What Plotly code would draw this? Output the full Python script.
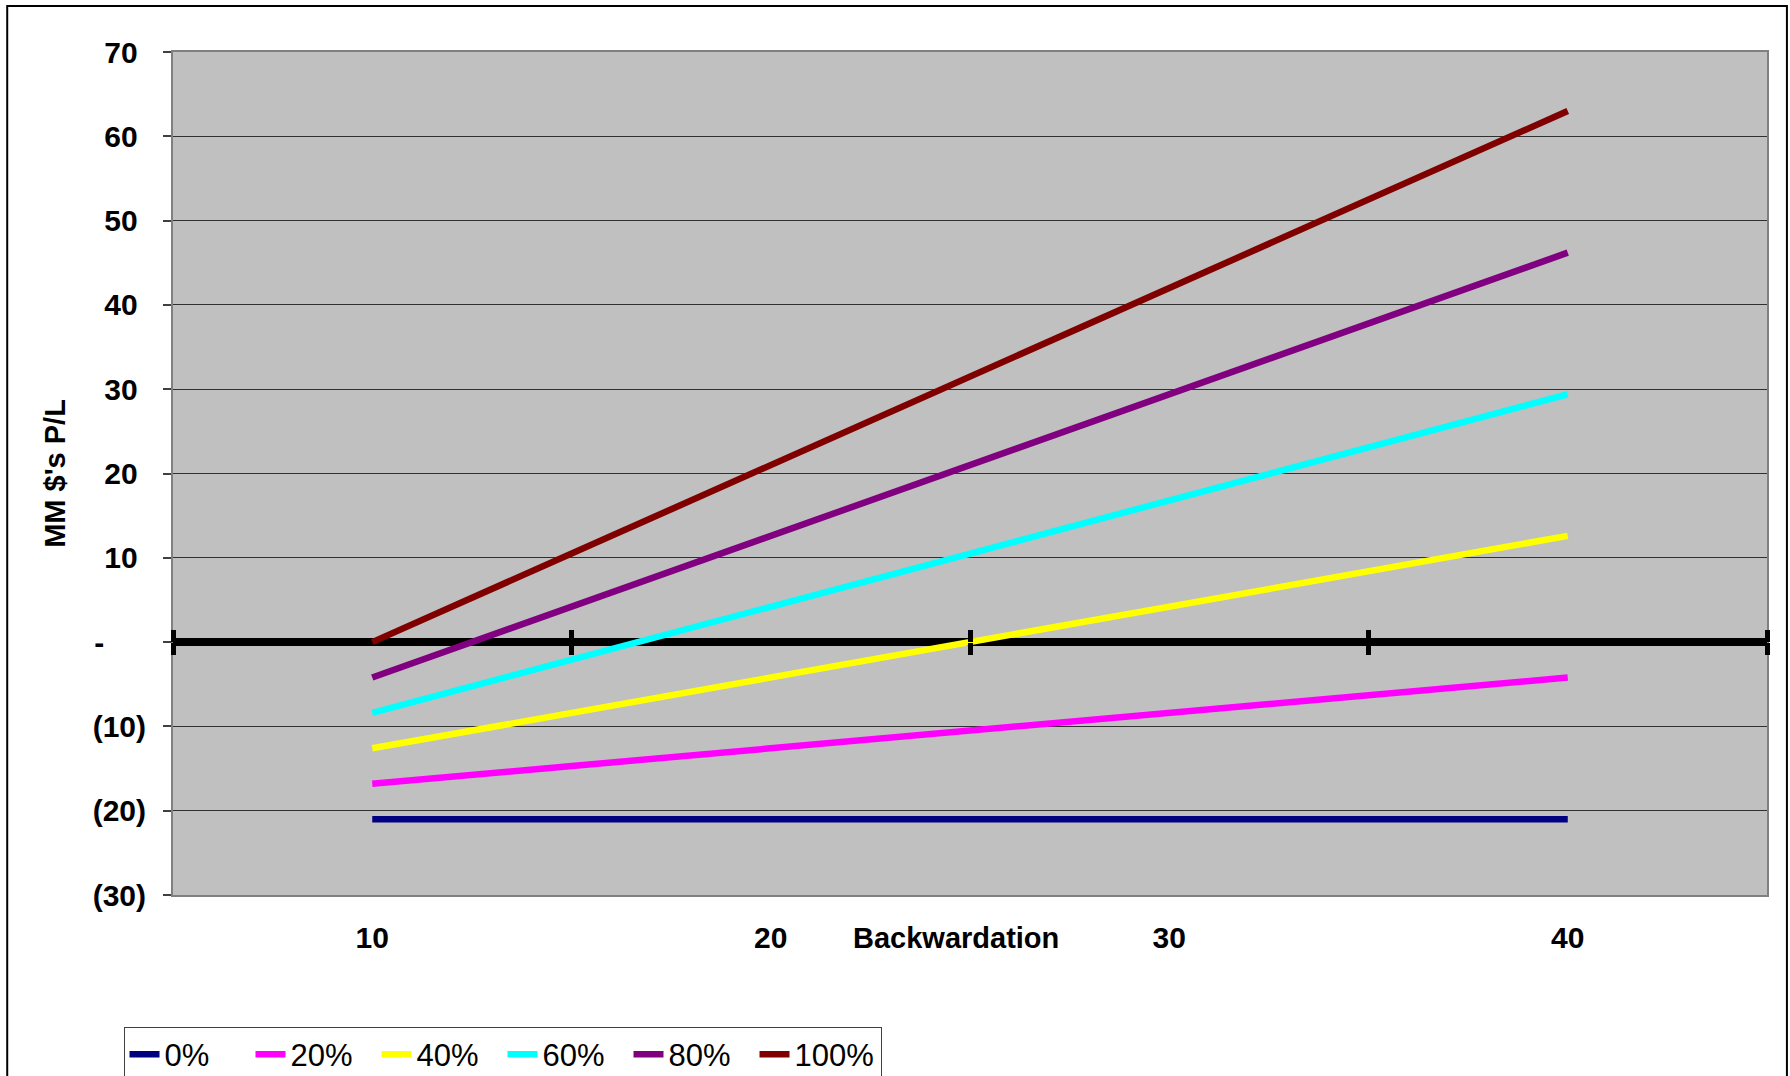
import plotly.graph_objects as go

# ---- data ----
categories = ["10", "20", "30", "40"]
series_names = ["0%", "20%", "40%", "60%", "80%", "100%"]
pl_0 = [-21.0, -21.0, -21.0, -21.0]
pl_20 = [-16.8, -12.6, -8.4, -4.2]
pl_40 = [-12.6, -4.2, 4.2, 12.6]
pl_60 = [-8.4, 4.2, 16.8, 29.4]
pl_80 = [-4.2, 12.6, 29.4, 46.2]
pl_100 = [0.0, 21.0, 42.0, 63.0]
series_values = [pl_0, pl_20, pl_40, pl_60, pl_80, pl_100]
series_colors = ["#000080", "#FF00FF", "#FFFF00", "#00FFFF", "#800080", "#800000"]

y_tick_vals = [-30, -20, -10, 0, 10, 20, 30, 40, 50, 60, 70]
y_tick_text = ["(30)", "(20)", "(10)", "-\u00a0\u00a0\u00a0\u00a0\u00a0",
               "10\u00a0", "20\u00a0", "30\u00a0", "40\u00a0", "50\u00a0", "60\u00a0", "70\u00a0"]
y_range = [-30, 70]

FONT = "Liberation Sans, Arial, sans-serif"

fig = go.Figure()
for name, vals, col in zip(series_names, series_values, series_colors):
    fig.add_trace(go.Scatter(x=categories, y=vals, name=name, mode="lines",
                             line=dict(color=col, width=6.5)))

# invisible helper traces for the crossing axis tick marks at y=0
for ax in ["x2", "x3"]:
    fig.add_trace(go.Scatter(x=categories, y=[None] * len(categories), xaxis=ax,
                             showlegend=False, hoverinfo="skip", mode="lines"))

zero_pos = (0 - y_range[0]) / (y_range[1] - y_range[0])

fig.update_layout(
    width=1790, height=1076,
    margin=dict(l=173, r=23, t=52, b=181, autoexpand=False),
    paper_bgcolor="white",
    plot_bgcolor="#C0C0C0",
    font=dict(family=FONT, color="black"),
    showlegend=True,
    legend=dict(orientation="h", xref="container", yref="container",
                x=0.069, y=0.046, xanchor="left", yanchor="top",
                bgcolor="white", bordercolor="#404040", borderwidth=1,
                font=dict(family=FONT, size=31),
                entrywidth=81, entrywidthmode="pixels",
                tracegroupgap=0),
    xaxis=dict(type="category", categoryarray=categories, range=[-0.5, 3.5],
               automargin=False,
               showgrid=False, zeroline=False, ticks="",
               showline=True, linecolor="#808080", linewidth=2, mirror=True,
               tickfont=dict(family=FONT, size=30, color="black", weight="bold"),
               ticklabelstandoff=15),
    xaxis2=dict(type="category", categoryarray=categories, range=[-0.5, 3.5],
                overlaying="x", anchor="free", position=zero_pos, side="bottom",
                showgrid=False, zeroline=False, showline=False, showticklabels=False,
                ticks="outside", tickson="boundaries", ticklen=12, tickwidth=5, tickcolor="black"),
    xaxis3=dict(type="category", categoryarray=categories, range=[-0.5, 3.5],
                overlaying="x", anchor="free", position=zero_pos, side="top",
                showgrid=False, zeroline=False, showline=False, showticklabels=False,
                ticks="outside", tickson="boundaries", ticklen=12, tickwidth=5, tickcolor="black"),
    yaxis=dict(range=y_range, tickvals=y_tick_vals, ticktext=y_tick_text,
               automargin=False,
               showgrid=True, gridcolor="#303030", gridwidth=1,
               zeroline=True, zerolinecolor="black", zerolinewidth=8,
               ticks="outside", ticklen=8, tickcolor="#404040", tickwidth=2,
               showline=True, linecolor="#808080", linewidth=2, mirror=True,
               tickfont=dict(family=FONT, size=30, color="black", weight="bold"),
               ticklabelstandoff=11,
               title=dict(text="MM $'s P/L", standoff=18,
                          font=dict(family=FONT, size=29, color="black", weight="bold"))),
    annotations=[dict(text="Backwardation", xref="paper", yref="paper",
                      x=0.491, y=-0.051, xanchor="center", yanchor="middle", showarrow=False,
                      font=dict(family=FONT, size=29, color="black", weight="bold"))],
    shapes=[dict(type="rect", xref="paper", yref="paper",
                 x0=-0.104, x1=1.0125, y0=-0.25, y1=1.0546,
                 line=dict(color="black", width=2), fillcolor="rgba(0,0,0,0)", layer="below")],
)

fig.write_html("out.html", config={"displayModeBar": False},
               post_script="document.body.style.margin='0';")
